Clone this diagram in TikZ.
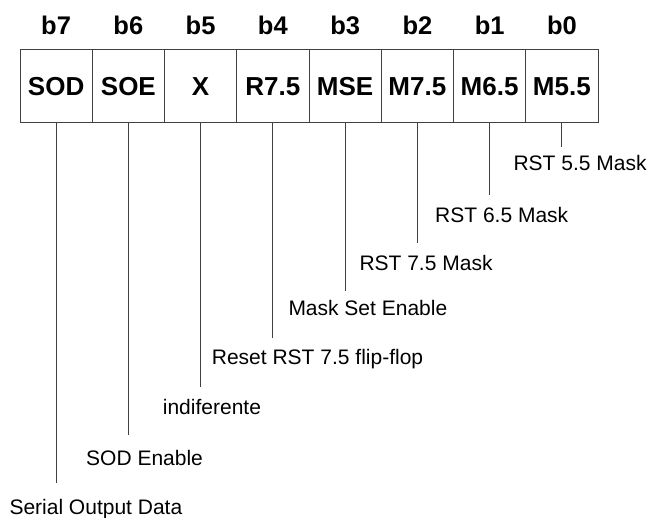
\documentclass[tikz,border=0pt]{standalone}
\usepackage{fontspec}
\setmainfont{Liberation Sans}
\begin{document}
\begin{tikzpicture}[x=1pt,y=-1pt,
  cell/.style={draw=linegray,line width=1pt,minimum width=72.25pt,minimum height=73pt,
               inner sep=0pt,font=\fontsize{26}{30}\selectfont\bfseries},
  bitlabel/.style={inner sep=0pt,anchor=base,font=\fontsize{25.5}{30}\selectfont\bfseries},
  desc/.style={inner sep=0pt,anchor=base west,font=\fontsize{21}{25}\selectfont},
  lead/.style={draw=linegray,line width=1pt}]
\definecolor{linegray}{RGB}{64,64,64}
\useasboundingbox (0,0) rectangle (650,518);

% register cells, b7 on the left
\foreach \name/\txt [count=\k from 0] in {7/SOD,6/SOE,5/X,4/R7.5,3/MSE,2/M7.5,1/M6.5,0/M5.5}{
  \node[cell] (c\name) at ({20+72.25*(\k+0.5)},86.5) {\txt};
  \node[bitlabel] (b\name) at ({20+72.25*(\k+0.5)},35) {b\name};
}

% end points of the leader lines
\coordinate (e0) at (c0.south |- 0,147);
\coordinate (e1) at (c1.south |- 0,195);
\coordinate (e2) at (c2.south |- 0,242.7);
\coordinate (e3) at (c3.south |- 0,290.7);
\coordinate (e4) at (c4.south |- 0,338.3);
\coordinate (e5) at (c5.south |- 0,386.7);
\coordinate (e6) at (c6.south |- 0,435);
\coordinate (e7) at (c7.south |- 0,483.3);

\foreach \i in {0,...,7}{ \draw[lead] (c\i.south) -- (e\i); }

% descriptions
\node[desc] (d0) at (513.3,171) {RST 5.5 Mask};
\node[desc] (d1) at (435,223) {RST 6.5 Mask};
\node[desc] (d2) at (359.3,271) {RST 7.5 Mask};
\node[desc] (d3) at (288.3,316) {Mask Set Enable};
\node[desc] (d4) at (211.7,364.3) {Reset RST 7.5 flip-flop};
\node[desc] (d5) at (162.7,414) {indiferente};
\node[desc] (d6) at (86,465.7) {SOD Enable};
\node[desc] (d7) at (9.3,514) {Serial Output Data};
\end{tikzpicture}
\end{document}
